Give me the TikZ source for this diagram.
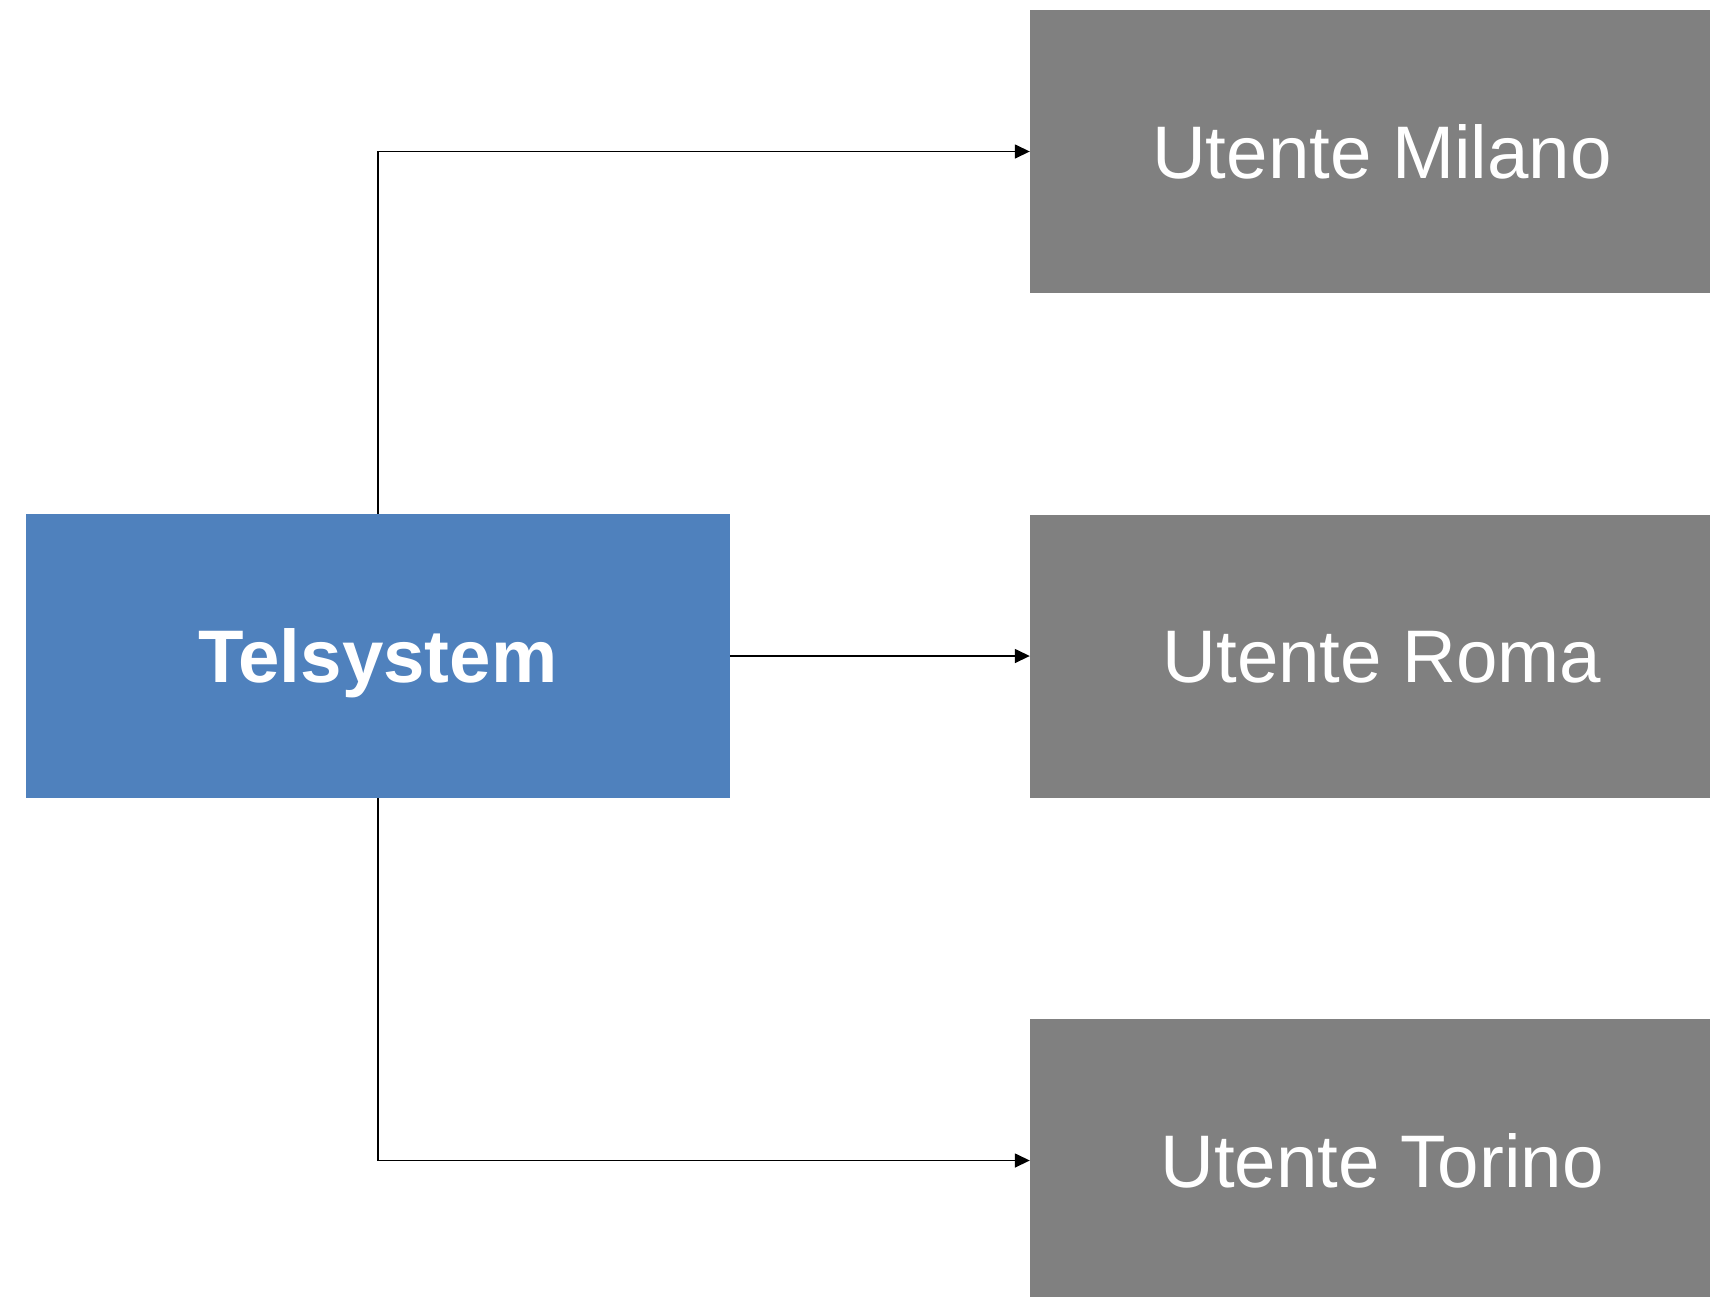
\documentclass[tikz,border=0pt]{standalone}
\usepackage{fontspec}
\setmainfont{Liberation Sans}
\usetikzlibrary{arrows.meta}

\definecolor{telblue}{HTML}{4F81BD}
\definecolor{utgray}{HTML}{808080}

\tikzset{
  hub/.style={fill=telblue, minimum width=704pt, minimum height=284pt,
    inner sep=0pt, text=white, text height=53pt, text depth=0pt,
    font=\fontsize{74.5}{80}\selectfont\bfseries},
  utente/.style={fill=utgray, minimum width=704pt, minimum height=283pt,
    inner sep=0pt, text=white, text height=53pt, text depth=0pt,
    font=\fontsize{74.5}{80}\selectfont},
  link/.style={-{Triangle[length=15pt,width=14pt]}, line width=1.5pt}
}

\begin{document}
\begin{tikzpicture}[x=1pt,y=-1pt]
   \useasboundingbox (0,0) rectangle (1710,1296);
   \clip (0,0) rectangle (1710,1296);
   % sorgente
   \node[hub] (tel) at (378,656) {Telsystem};
   % utenti
   \node[utente] (mil) at (1382,151.5) {Utente Milano};
   \node[utente] (rom) at (1382,656) {Utente Roma};
   \node[utente] (tor) at (1382,1160.5) {Utente Torino};
   % collegamenti
   \draw[link] (tel.north) |- (mil.west);
   \draw[link] (tel.east) -- (rom.west);
   \draw[link] (tel.south) |- (tor.west);
\end{tikzpicture}
\end{document}
